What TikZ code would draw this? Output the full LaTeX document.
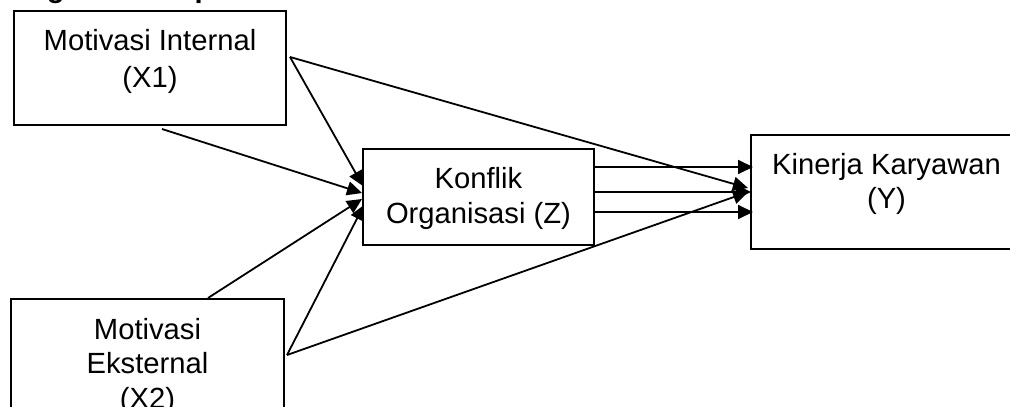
\documentclass[tikz,border=0pt]{standalone}
\usepackage{fontspec}
\setmainfont[Ligatures=NoCommon]{Liberation Sans}
\usetikzlibrary{arrows.meta}
\begin{document}
\begin{tikzpicture}[x=1pt,y=-1pt,
  box/.style={draw,line width=2pt,inner sep=0pt},
  lbl/.style={anchor=base,inner sep=0pt,font=\fontsize{29.2}{35}\selectfont},
  link/.style={line width=1.8pt,-{Triangle[length=15pt,width=14pt]}}]
\clip (0,0) rectangle (1010,407);
\fill[white] (0,0) rectangle (1010,407);
% heading, mostly above the frame
\node[anchor=base west,inner sep=0pt,font=\fontsize{29.2}{35}\selectfont\bfseries] (title) at (-36,-3) {Kerangka Konseptual};

% boxes
\node[box,minimum width=272pt,minimum height=114pt] (x1) at (150,68) {};
\node[box,minimum width=273pt,minimum height=141pt] (x2) at (147.5,369.5) {};
\node[box,minimum width=231pt,minimum height=96pt] (z) at (478.5,197) {};
\node[box,minimum width=271pt,minimum height=114pt] (y) at (886.5,192) {};

% box texts
\node[lbl] (x1a) at (150,50) {Motivasi Internal};
\node[lbl] (x1b) at (150,87) {(X1)};
\node[lbl] (za) at (478.5,188) {Konflik};
\node[lbl] (zb) at (478.5,223) {Organisasi (Z)};
\node[lbl] (ya) at (886.5,174) {Kinerja Karyawan};
\node[lbl] (yb) at (886.5,208) {(Y)};
\node[lbl] (x2a) at (147.5,339) {Motivasi};
\node[lbl] (x2b) at (147.5,373) {Eksternal};
\node[lbl] (x2c) at (147.5,408) {(X2)};

% connector ends
\coordinate (x1r) at (290,57);
\coordinate (x1d) at (162,129);
\coordinate (x2t) at (208,298);
\coordinate (x2r) at (287,355);
\coordinate (zi1) at (363,186);
\coordinate (zi2) at (362,193);
\coordinate (zi3) at (362,199);
\coordinate (zi4) at (364,205);
\coordinate (zo1) at (594,167);
\coordinate (zo2) at (594,192);
\coordinate (zo3) at (594,212);
\coordinate (yi1) at (753,167);
\coordinate (yi2) at (751,192);
\coordinate (yi3) at (753,212);
\coordinate (yi4) at (748,188);
\coordinate (yi5) at (748,192);

% connectors
\draw[link] (x1r) -- (zi1);
\draw[link] (x1d) -- (zi2);
\draw[link] (x2t) -- (zi3);
\draw[link] (x2r) -- (zi4);
\draw[link] (x1r) -- (yi4);
\draw[link] (x2r) -- (yi5);
\draw[link] (zo1) -- (yi1);
\draw[link] (zo2) -- (yi2);
\draw[link] (zo3) -- (yi3);
\end{tikzpicture}
\end{document}
